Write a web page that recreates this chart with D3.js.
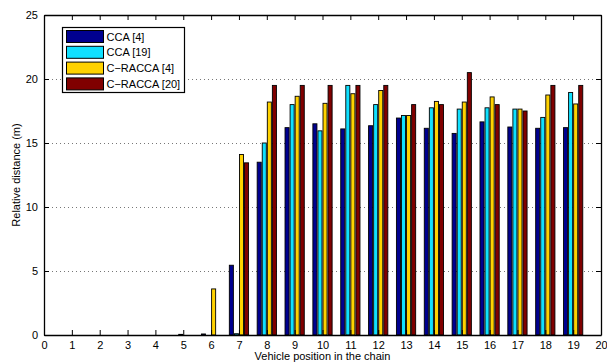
<!DOCTYPE html>
<html>
<head>
<meta charset="utf-8">
<script src="https://cdn.jsdelivr.net/npm/d3@7"></script>
<style>
  body { margin: 0; background: #fff; }
  svg text { font-family: "Liberation Sans", Arial, sans-serif; fill: #000; }
</style>
</head>
<body>
<svg id="chart" width="607" height="363"></svg>
<script>
// data
var positions = [1,2,3,4,5,6,7,8,9,10,11,12,13,14,15,16,17,18,19];
var seriesNames = ["CCA [4]", "CCA [19]", "C\u2212RACCA [4]", "C\u2212RACCA [20]"];
var seriesColors = ["#00008f", "#10e0ff", "#ffd200", "#800000"];

var cca4    = [0, 0, 0, 0, 0, 0.08, 5.45, 13.5, 16.2, 16.5, 16.1, 16.35, 16.95, 16.15, 15.75, 16.65, 16.25, 16.15, 16.2];
var cca19   = [0, 0, 0, 0, 0.05, 0, 0.1, 15.0, 18.0, 15.95, 19.5, 18.0, 17.15, 17.75, 17.65, 17.75, 17.65, 17.0, 18.95];
var racca4  = [0, 0, 0, 0, 0, 3.6, 14.1, 18.2, 18.65, 18.1, 18.85, 19.1, 17.15, 18.25, 18.2, 18.6, 17.65, 18.75, 18.05];
var racca20 = [0, 0, 0, 0, 0, 0, 13.45, 19.5, 19.5, 19.5, 19.5, 19.5, 18.0, 18.0, 20.5, 18.0, 17.5, 19.5, 19.5];
var allSeries = [cca4, cca19, racca4, racca20];

var xTicks = d3.range(0, 21);
var yTicks = [0, 5, 10, 15, 20, 25];

var svg = d3.select("#chart");
// plot box (don't use "top" as a name, it's window.top)
var pLeft = 44, pRight = 601, pTop = 15, pBottom = 335;

var x = d3.scaleLinear().domain([0, 20]).range([pLeft, pRight]);
var y = d3.scaleLinear().domain([0, 25]).range([pBottom, pTop]);

// horizontal dotted grid
svg.append("g").selectAll("line")
  .data(yTicks.slice(1, -1))
  .enter().append("line")
  .attr("x1", pLeft).attr("x2", pRight)
  .attr("y1", d => y(d) + 0.5).attr("y2", d => y(d) + 0.5)
  .attr("stroke", "#777")
  .attr("stroke-width", 1)
  .attr("stroke-dasharray", "1,3");

// grouped bars, MATLAB style
var n = allSeries.length;
var groupWidth = Math.min(0.8, n / (n + 1.5));
var step = groupWidth / n;
var barW = x(step * 0.8) - x(0);

var bars = svg.append("g");
allSeries.forEach(function(vals, s) {
  bars.selectAll(".bar" + s)
    .data(vals)
    .enter().append("rect")
    .attr("class", "bar" + s)
    .attr("x", (d, i) => x(positions[i] - groupWidth / 2 + step * (s + 0.5)) - barW / 2)
    .attr("y", d => y(d))
    .attr("width", barW)
    .attr("height", d => y(0) - y(d))
    .attr("fill", seriesColors[s])
    .attr("stroke", "#000")
    .attr("stroke-width", 0.9);
});

// axes with inward ticks on all four sides
svg.append("g")
  .attr("transform", "translate(0," + pBottom + ")")
  .call(d3.axisBottom(x).tickValues(xTicks).tickSizeInner(-5).tickSizeOuter(0).tickPadding(6));
svg.append("g")
  .attr("transform", "translate(0," + pTop + ")")
  .call(d3.axisTop(x).tickValues(xTicks).tickSizeInner(-5).tickSizeOuter(0).tickFormat(""));
svg.append("g")
  .attr("transform", "translate(" + pLeft + ",0)")
  .call(d3.axisLeft(y).tickValues(yTicks).tickSizeInner(-5).tickSizeOuter(0).tickPadding(6));
svg.append("g")
  .attr("transform", "translate(" + pRight + ",0)")
  .call(d3.axisRight(y).tickValues(yTicks).tickSizeInner(-5).tickSizeOuter(0).tickFormat(""));

svg.selectAll(".domain").attr("stroke", "#000").attr("stroke-width", 1.3);
svg.selectAll(".tick line").attr("stroke", "#000");
svg.selectAll(".tick text")
  .style("font-family", "'Liberation Sans', Arial, sans-serif")
  .style("font-size", "11px");

// axis labels
svg.append("text")
  .attr("x", (pLeft + pRight) / 2).attr("y", 360)
  .attr("text-anchor", "middle")
  .style("font-size", "11px")
  .text("Vehicle position in the chain");
svg.append("text")
  .attr("transform", "translate(20," + (pTop + pBottom) / 2 + ") rotate(-90)")
  .attr("text-anchor", "middle")
  .style("font-size", "11px")
  .text("Relative distance (m)");

// legend
var legend = svg.append("g");
legend.append("rect")
  .attr("x", 62.5).attr("y", 27.5)
  .attr("width", 122).attr("height", 65)
  .attr("fill", "#fff").attr("stroke", "#000").attr("stroke-width", 1.2);
var items = legend.selectAll(".item")
  .data(seriesNames)
  .enter().append("g")
  .attr("transform", (d, i) => "translate(0," + (36.5 + i * 15.8) + ")");
items.append("rect")
  .attr("x", 66.5).attr("y", -6)
  .attr("width", 37).attr("height", 12)
  .attr("fill", (d, i) => seriesColors[i])
  .attr("stroke", "#000").attr("stroke-width", 1);
items.append("text")
  .attr("x", 106.5).attr("y", 4)
  .style("font-size", "11px")
  .text(d => d);
</script>
</body>
</html>
